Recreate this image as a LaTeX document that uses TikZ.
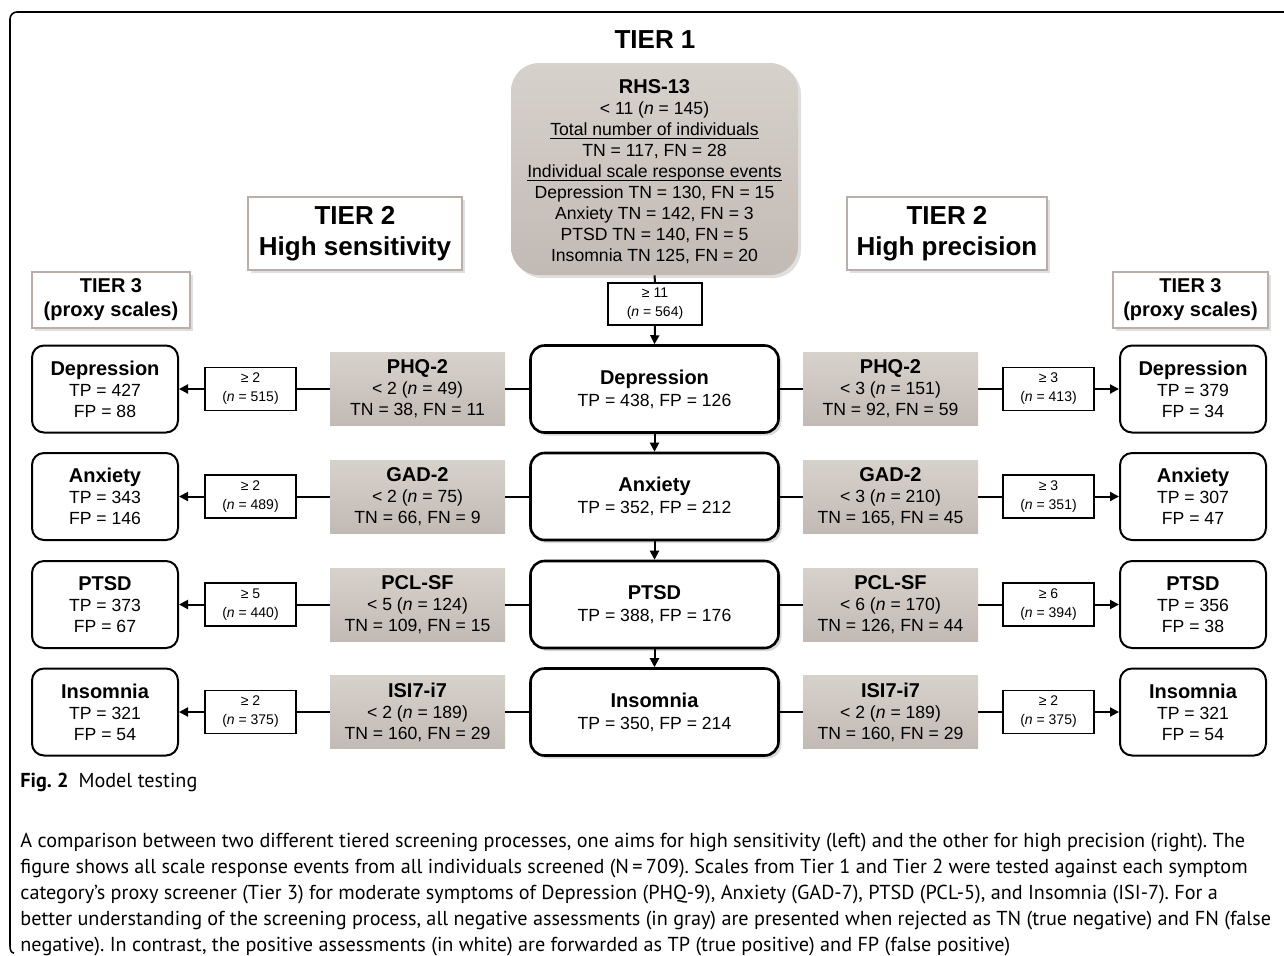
\documentclass[tikz,border=0pt]{standalone}
\usepackage{fontspec}
\setmainfont{Liberation Sans}
\newfontfamily\capfont{PT Sans}
\usetikzlibrary{shadows,arrows.meta}
\frenchspacing
\definecolor{grayA}{RGB}{215,209,204}
\definecolor{grayB}{RGB}{194,186,180}
\definecolor{tierborder}{RGB}{185,175,168}
\newcommand\hd[1]{{\fontsize{10}{10.5}\selectfont\bfseries #1}}
\newcommand\nn{\textit{n}}
\newcommand\ulx[1]{\leavevmode\setbox0\hbox{#1}\rlap{\rule[-1.4pt]{\wd0}{0.5pt}}\box0}
\tikzset{
  every node/.style={inner sep=0pt, align=center},
  conn/.style={line width=1pt},
  arr/.style={line width=1pt,-{Triangle[length=4.5pt,width=4.5pt]}},
  graybox/.style={top color=grayA,bottom color=grayB,
    minimum width=87.5pt,minimum height=36.5pt,
    font=\fontsize{8.8}{10.5}\selectfont},
  centerbox/.style={draw,line width=1.3pt,rounded corners=7pt,fill=white,
    minimum width=124pt,minimum height=43.5pt,
    font=\fontsize{8.8}{11}\selectfont,
    drop shadow={opacity=0.3,shadow xshift=1.5pt,shadow yshift=-1.5pt}},
  smallbox/.style={draw,line width=0.6pt,fill=white,
    minimum width=45.5pt,minimum height=21.5pt,
    font=\fontsize{7}{9.5}\selectfont},
  proxybox/.style={draw,line width=1pt,rounded corners=6pt,fill=white,
    minimum width=73pt,minimum height=43.5pt,
    font=\fontsize{8.8}{10.5}\selectfont},
  tierlabel/.style={draw=tierborder,line width=1pt,fill=white,
    drop shadow={opacity=0.25,shadow xshift=1.5pt,shadow yshift=-1.5pt}},
}
\begin{document}
\begin{tikzpicture}[x=0.5pt,y=-0.5pt]
\useasboundingbox (0,0) rectangle (1284,955);
% outer frame
\draw[line width=0.8pt] (1290,12) -- (17,12) to[out=180,in=90] (10,19) -- (10,946) to[out=-90,in=180] (14,953);

% Tier 1
\node[font=\fontsize{13}{15}\selectfont\bfseries] (t1) at (655,40) {TIER 1};
\node[top color=grayA,bottom color=grayB,rounded corners=14pt,
  minimum width=143.5pt,minimum height=106pt,
  drop shadow={opacity=0.25,shadow xshift=1.5pt,shadow yshift=-1.5pt}] (rhs) at (654.5,169) {};
\node[font=\fontsize{8.8}{10.5}\selectfont] (rhstext) at (654.5,172) {\hd{RHS-13}\\
< 11 (\nn{} = 145)\\
\ulx{Total number of individuals}\\
TN = 117, FN = 28\\
\ulx{Individual scale response events}\\
Depression TN = 130, FN = 15\\
Anxiety TN = 142, FN = 3\\
PTSD TN = 140, FN = 5\\
Insomnia TN 125, FN = 20};
\node[smallbox,minimum width=47pt,minimum height=21pt] (g11) at (655,304) {≥ 11\\(\nn{} = 564)};

% Tier 2 / Tier 3 labels
\node[tierlabel,minimum width=107pt,minimum height=36.5pt,font=\fontsize{13}{15.5}\selectfont\bfseries] (t2l) at (355,233.5) {TIER 2\\High sensitivity};
\node[tierlabel,minimum width=100pt,minimum height=36.5pt,font=\fontsize{13}{15.5}\selectfont\bfseries] (t2r) at (947,233.5) {TIER 2\\High precision};
\node[tierlabel,minimum width=79pt,minimum height=28pt,font=\fontsize{10}{12}\selectfont\bfseries] (t3l) at (111,300) {TIER 3\\(proxy scales)};
\node[tierlabel,minimum width=77.5pt,minimum height=28pt,font=\fontsize{10}{12}\selectfont\bfseries] (t3r) at (1190.5,300) {TIER 3\\(proxy scales)};

% Center column
\node[centerbox] (c1) at (654.5,389) {\hd{Depression}\\TP = 438, FP = 126};
\node[centerbox] (c2) at (654.5,496.5) {\hd{Anxiety}\\TP = 352, FP = 212};
\node[centerbox] (c3) at (654.5,604.5) {\hd{PTSD}\\TP = 388, FP = 176};
\node[centerbox] (c4) at (654.5,712) {\hd{Insomnia}\\TP = 350, FP = 214};

% Left gray
\node[graybox] (lg1) at (417.5,389) {\hd{PHQ-2}\\< 2 (\nn{} = 49)\\TN = 38, FN = 11};
\node[graybox] (lg2) at (417.5,496.5) {\hd{GAD-2}\\< 2 (\nn{} = 75)\\TN = 66, FN = 9};
\node[graybox] (lg3) at (417.5,604.5) {\hd{PCL-SF}\\< 5 (\nn{} = 124)\\TN = 109, FN = 15};
\node[graybox] (lg4) at (417.5,712) {\hd{ISI7-i7}\\< 2 (\nn{} = 189)\\TN = 160, FN = 29};
% Right gray
\node[graybox] (rg1) at (890.5,389) {\hd{PHQ-2}\\< 3 (\nn{} = 151)\\TN = 92, FN = 59};
\node[graybox] (rg2) at (890.5,496.5) {\hd{GAD-2}\\< 3 (\nn{} = 210)\\TN = 165, FN = 45};
\node[graybox] (rg3) at (890.5,604.5) {\hd{PCL-SF}\\< 6 (\nn{} = 170)\\TN = 126, FN = 44};
\node[graybox] (rg4) at (890.5,712) {\hd{ISI7-i7}\\< 2 (\nn{} = 189)\\TN = 160, FN = 29};

% Left small
\node[smallbox] (ls1) at (250.5,389) {≥ 2\\(\nn{} = 515)};
\node[smallbox] (ls2) at (250.5,496.5) {≥ 2\\(\nn{} = 489)};
\node[smallbox] (ls3) at (250.5,604.5) {≥ 5\\(\nn{} = 440)};
\node[smallbox] (ls4) at (250.5,712) {≥ 2\\(\nn{} = 375)};
% Right small
\node[smallbox] (rs1) at (1048.5,389) {≥ 3\\(\nn{} = 413)};
\node[smallbox] (rs2) at (1048.5,496.5) {≥ 3\\(\nn{} = 351)};
\node[smallbox] (rs3) at (1048.5,604.5) {≥ 6\\(\nn{} = 394)};
\node[smallbox] (rs4) at (1048.5,712) {≥ 2\\(\nn{} = 375)};

% Left proxy
\node[proxybox] (lt1) at (105,389) {\hd{Depression}\\TP = 427\\FP = 88};
\node[proxybox] (lt2) at (105,496.5) {\hd{Anxiety}\\TP = 343\\FP = 146};
\node[proxybox] (lt3) at (105,604.5) {\hd{PTSD}\\TP = 373\\FP = 67};
\node[proxybox] (lt4) at (105,712) {\hd{Insomnia}\\TP = 321\\FP = 54};
% Right proxy
\node[proxybox] (rt1) at (1193,389) {\hd{Depression}\\TP = 379\\FP = 34};
\node[proxybox] (rt2) at (1193,496.5) {\hd{Anxiety}\\TP = 307\\FP = 47};
\node[proxybox] (rt3) at (1193,604.5) {\hd{PTSD}\\TP = 356\\FP = 38};
\node[proxybox] (rt4) at (1193,712) {\hd{Insomnia}\\TP = 321\\FP = 54};

% vertical connectors
\draw[conn] (rhs.south) -- (g11.north);
\draw[arr] (g11.south) -- (c1.north);
\draw[arr] (c1.south) -- (c2.north);
\draw[arr] (c2.south) -- (c3.north);
\draw[arr] (c3.south) -- (c4.north);

% horizontal connectors
\foreach \i in {1,2,3,4}{
  \draw[conn] (c\i.west) -- (lg\i.east);
  \draw[conn] (lg\i.west) -- (ls\i.east);
  \draw[arr] (ls\i.west) -- (lt\i.east);
  \draw[conn] (c\i.east) -- (rg\i.west);
  \draw[conn] (rg\i.east) -- (rs\i.west);
  \draw[arr] (rs\i.east) -- (rt\i.west);
}

% caption
\node[anchor=base west,font=\capfont\fontsize{10.1}{12}\selectfont] (cap) at (20,787) {\textbf{Fig. 2}\hspace{0.5em}Model testing};
\begin{scope}[every node/.style={anchor=base west,inner sep=0pt,font=\capfont\fontsize{10.1}{12}\selectfont}]
\node (p1) at (20,847) {A comparison between two different tiered screening processes, one aims for high sensitivity (left) and the other for high precision (right). The};
\node (p2) at (20,873) {figure shows all scale response events from all individuals screened (N\,=\,709). Scales from Tier 1 and Tier 2 were tested against each symptom};
\node (p3) at (20,899) {category’s proxy screener (Tier 3) for moderate symptoms of Depression (PHQ-9), Anxiety (GAD-7), PTSD (PCL-5), and Insomnia (ISI-7). For a};
\node (p4) at (20,925) {better understanding of the screening process, all negative assessments (in gray) are presented when rejected as TN (true negative) and FN (false};
\node (p5) at (20,951) {negative). In contrast, the positive assessments (in white) are forwarded as TP (true positive) and FP (false positive)};
\end{scope}
\end{tikzpicture}
\end{document}
